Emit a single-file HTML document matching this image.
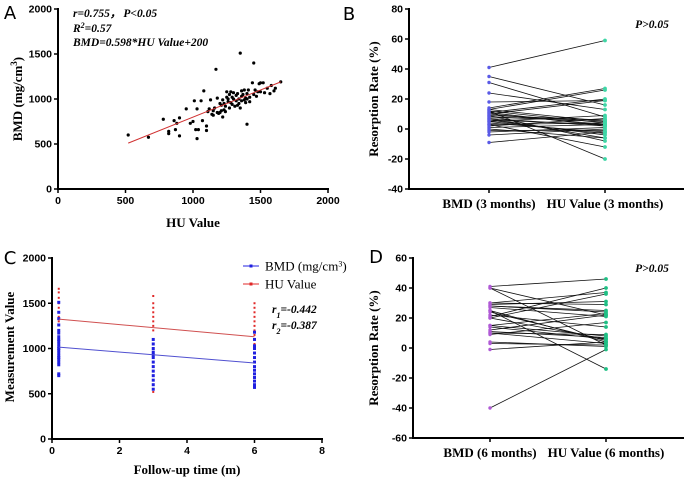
<!DOCTYPE html>
<html><head><meta charset="utf-8"><style>
html,body{margin:0;padding:0;background:#fff}
svg{display:block}
.tk{font-family:"Liberation Sans",sans-serif;font-weight:bold;font-size:10.5px}
.tt{font-family:"Liberation Serif",serif;font-weight:bold;font-size:13px}
.an{font-family:"Liberation Serif",serif;font-weight:bold;font-style:italic;font-size:11.5px}
.pl{font-family:"DejaVu Sans","Liberation Sans",sans-serif;font-size:18px}
</style></head><body>
<svg id="fig" width="685" height="479" viewBox="0 0 685 479"></svg>
<script>
// Panel A data
const aHU=[520,670,780,820,820,860,870,880,900,900,950,980,1000,1010,1020,1030,1030,1040,1060,1070,1080,1100,1100,1110,1120,1130,1140,1150,1160,1170,1180,1190,1200,1200,1210,1220,1220,1230,1240,1250,1250,1260,1270,1270,1280,1280,1290,1300,1300,1310,1320,1320,1330,1340,1340,1350,1350,1360,1360,1370,1380,1380,1390,1400,1400,1400,1410,1420,1420,1440,1450,1450,1460,1470,1480,1490,1500,1500,1520,1530,1550,1570,1580,1600,1610,1650,1240,1180,1260,1230,1290,1330,1150,1210,1360,1390];
const aBMD=[600,575,775,640,615,760,660,730,790,590,890,730,750,980,660,560,890,660,980,760,1090,700,650,860,890,990,830,870,900,1330,1010,840,850,950,870,800,990,880,920,1080,1020,970,900,1050,1080,960,940,1000,1070,920,1040,980,1060,950,1000,1510,900,1030,980,1050,990,1100,1010,720,1000,1060,1100,970,1020,1180,1400,1050,1100,1030,1080,1170,1180,1080,1180,1070,1120,1060,1150,1090,1120,1190,860,850,1000,950,1020,930,820,930,1090,960];
const aFitX=[520,1650];
const aFitY=[510,1190];
const aTicksX=[0,500,1000,1500,2000];
const aTicksY=[0,500,1000,1500,2000];
// Panel B data
const bBMD=[41,35,31,24,18,14,13,12,11,10,9,8,7,6,5,4,3,2,0,-2,-4,-9,12,10,8,6,5,3,13,11,9,7,1,-1];
const bHU=[59,16,8,13,19,27,26,4,20,3,-8,5,2,-4,9,-2,-12,7,-6,1,0,-2,-20,19,6,3,-3,4,5,2,6,-6,3,-1];
const bTicks=[-40,-20,0,20,40,60,80];
// Panel C data
const cTimes=[0.2,3,6];
const cBMD=[[700,720,820,850,880,900,920,950,980,1000,1020,1050,1080,1100,1130,1170,1200,1260,1330,1400,1510],[550,600,650,700,750,800,850,900,930,960,1000,1050,1100],[570,600,640,680,720,760,800,850,900,950,1000,1030,1100,1180]];
const cHUv=[[820,900,1000,1100,1200,1260,1300,1350,1400,1450,1500,1560,1620,1660],[520,700,900,1000,1100,1200,1250,1300,1350,1400,1450,1500,1580],[850,950,1050,1150,1200,1250,1300,1350,1400,1450,1500]];
const cFitBMD=[1015,840];
const cFitHU=[1325,1130];
const cTicksX=[0,2,4,6,8];
const cTicksY=[0,500,1000,1500,2000];
// Panel D data
const dBMD=[41,40,40,30,29,28,27,25,24,22,21,20,15,14,12,10,9,4,3,-1,-40,25,15,30,10,20,28,11];
const dHU=[46,22,2,37,31,25,21,-14,5,14,40,36,8,6,22,3,17,1,2,4,-1,4,23,29,9,6,24,7];
const dTicks=[-60,-40,-20,0,20,40,60];

const NS="http://www.w3.org/2000/svg";
const svg=document.getElementById('fig');
function mk(tag,attrs,parent,txt){const e=document.createElementNS(NS,tag);for(const k in attrs)e.setAttribute(k,attrs[k]);if(txt!==undefined)e.textContent=txt;(parent||svg).appendChild(e);return e;}
function lin(d0,d1,r0,r1){return v=>r0+(v-d0)*(r1-r0)/(d1-d0);}

function yAxis(g,x,sy,ticks,y0,y1){
  const l=mk('line',{x1:x,x2:x,y1:y0,y2:y1,stroke:'#000','stroke-width':2},g);
  
  ticks.forEach(t=>{mk('line',{x1:x-4,x2:x,y1:sy(t),y2:sy(t),stroke:'#000','stroke-width':1.5},g);
    const tx=mk('text',{x:x-6,y:sy(t)+3.5,'text-anchor':'end',class:'tk'},g,String(t));
    });
}
function xAxisNum(g,y,sx,ticks,x0,x1){
  const l=mk('line',{x1:x0,x2:x1,y1:y,y2:y,stroke:'#000','stroke-width':2},g);
  
  ticks.forEach(t=>{mk('line',{x1:sx(t),x2:sx(t),y1:y,y2:y+4,stroke:'#000','stroke-width':1.5},g);
    const tx=mk('text',{x:sx(t),y:y+15,'text-anchor':'middle',class:'tk'},g,String(t));
    });
}
function label(g,txt,x,y,cls,name,rot){
  const a={x:x,y:y,'text-anchor':'middle',class:cls};
  if(rot)a.transform='rotate(-90 '+x+' '+y+')';
  const t=mk('text',a,g);t.innerHTML=txt;
  return t;
}

// ---- Panel A
(function(){
  const g=mk('g',{});
  const sx=lin(0,2000,58,328), sy=lin(0,2000,189,9);
  aHU.forEach((v,i)=>{const c=mk('circle',{cx:sx(v),cy:sy(aBMD[i]),r:1.6,fill:'#000'},g);
    });
  const f=mk('line',{x1:sx(aFitX[0]),y1:sy(aFitY[0]),x2:sx(aFitX[1]),y2:sy(aFitY[1]),stroke:'#d03030','stroke-width':1},g);
  
  yAxis(g,58,sy,aTicksY,8,190);xAxisNum(g,189,sx,aTicksX,57,329);
  label(g,'HU Value',193,227,'tt','x-axis-title');
  label(g,'BMD (mg/cm<tspan baseline-shift="super" font-size="9">3</tspan>)',22,99,'tt','y-axis-title',true);
  const an=[['<tspan>r=0.755，</tspan><tspan dx="2">P&lt;0.05</tspan>',17],['R<tspan baseline-shift="super" font-size="8">2</tspan>=0.57',32],['BMD=0.598*HU Value+200',46]];
  an.forEach(a=>{const t=mk('text',{x:73,y:a[1],class:'an'},g);t.innerHTML=a[0];});
  label(g,'A',10,19,'pl','panel-label-a');
})();

// paired panel
function paired(name,letter,lx,ly,ax,ytop,ybot,ticks,L,R,cx1,cx2,col1,col2,cats,pY,titleX){
  const g=mk('g',{});
  const sy=lin(ticks[0],ticks[ticks.length-1],ybot,ytop);
  L.forEach((v,i)=>{const l=mk('line',{x1:cx1,y1:sy(v),x2:cx2,y2:sy(R[i]),stroke:'#111','stroke-width':0.8},g);
    });
  L.forEach((v,i)=>{const a=mk('circle',{cx:cx1,cy:sy(v),r:1.7,fill:col1},g);
    const b=mk('circle',{cx:cx2,cy:sy(R[i]),r:1.9,fill:col2},g);});
  yAxis(g,ax,sy,ticks,ytop-1,ybot+1);
  const xl=mk('line',{x1:ax-1,x2:684,y1:ybot,y2:ybot,stroke:'#000','stroke-width':2},g);
  
  [cx1,cx2].forEach((c,i)=>{mk('line',{x1:c,x2:c,y1:ybot,y2:ybot+4,stroke:'#000','stroke-width':1.5},g);
    label(g,cats[i],c,ybot+19,'tt','x-category-label').setAttribute('font-size','11');});
  label(g,'Resorption Rate (%)',titleX,(ytop+ybot)/2,'tt','y-axis-title',true);
  const p=mk('text',{x:652,y:pY,'text-anchor':'middle',class:'an'},g,'P>0.05');p.setAttribute('font-size','12.5');
  
  label(g,letter,lx,ly,'pl','panel-label-'+letter.toLowerCase());
}
paired('panel-b','B',349,20,409,9,189,bTicks,bBMD,bHU,489,605,'#5a5ae6','#3fd6a6',['BMD (3 months)','HU Value (3 months)'],28,378);
paired('panel-d','D',376,263,413,258,438,dTicks,dBMD,dHU,490,606,'#b05ad6','#1fbf84',['BMD (6 months)','HU Value (6 months)'],272,378);

// ---- Panel C
(function(){
  const g=mk('g',{});
  const sx=lin(0,8,52,322), sy=lin(0,2000,439,258);
  cTimes.forEach((t,j)=>{
    cHUv[j].forEach(v=>{const r=mk('rect',{x:sx(t)-1,y:sy(v)-1,width:2,height:2,fill:'#e02828'},g);});
    cBMD[j].forEach(v=>{const r=mk('rect',{x:sx(t)-1.5,y:sy(v)-1.5,width:3,height:3,fill:'#2020e0'},g);});
  });
  const tA=cTimes[0],tB=cTimes[2];
  const l1=mk('line',{x1:sx(tA),y1:sy(cFitHU[0]),x2:sx(tB),y2:sy(cFitHU[1]),stroke:'#d05050','stroke-width':1},g);
  
  const l2=mk('line',{x1:sx(tA),y1:sy(cFitBMD[0]),x2:sx(tB),y2:sy(cFitBMD[1]),stroke:'#5050d0','stroke-width':1},g);
  
  yAxis(g,52,sy,cTicksY,257,440);xAxisNum(g,439,sx,cTicksX,51,323);
  label(g,'Follow-up time (m)',187,474,'tt','x-axis-title');
  label(g,'Measurement Value',14,347,'tt','y-axis-title',true);
  const r1=mk('text',{x:272,y:313,class:'an'},g);r1.innerHTML='r<tspan baseline-shift="sub" font-size="8">1</tspan>=-0.442';
  const r2=mk('text',{x:272,y:329,class:'an'},g);r2.innerHTML='r<tspan baseline-shift="sub" font-size="8">2</tspan>=-0.387';
  const lg=mk('g',{},g);
  [['BMD (mg/cm<tspan baseline-shift="super" font-size="8">3</tspan>)','#2020e0',266],['HU Value','#e02828',284]].forEach(e=>{
    mk('line',{x1:243,x2:259,y1:e[2],y2:e[2],stroke:e[1],'stroke-width':1},lg);
    mk('rect',{x:249.5,y:e[2]-1.5,width:3,height:3,fill:e[1]},lg);
    const t=mk('text',{x:265,y:e[2]+4.5,'font-family':'Liberation Serif, serif','font-size':'13'},lg);t.innerHTML=e[0];
    });
  label(g,'C',10,264,'pl','panel-label-c');
})();
</script>
</body></html>
